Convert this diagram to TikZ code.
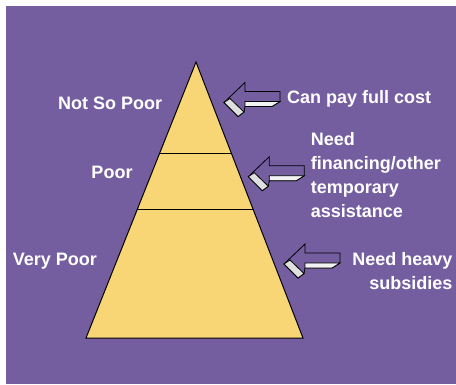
\documentclass[tikz,border=0pt]{standalone}
\usepackage{fontspec}
\setmainfont{Liberation Sans}
\usetikzlibrary{calc}

\definecolor{slidepurple}{RGB}{116,94,160}
\definecolor{tieryellow}{RGB}{248,214,118}

\tikzset{
  tierlabel/.style={text=white, font=\bfseries\fontsize{18}{24}\selectfont, inner sep=0pt},
  arrowline/.style={draw=black, line width=0.8pt},
}

% 3-D block arrow pointing left, tip at #1
\newcommand{\blockarrow}[1]{%
  \begin{scope}[shift={#1}]
    \filldraw[arrowline, fill=slidepurple] (0,0) -- (21,-20) -- (21,-11) -- (56,-11) -- (56,-1) -- (48,4) -- (21,4) -- (20,9.5) -- (14,14) -- cycle;
    \filldraw[arrowline, fill=white!90!gray] (21,-1) -- (56,-1) -- (48,4) -- (21,4) -- cycle;
    \filldraw[arrowline, fill=gray!25] (0,0) -- (6,-4) -- (20,9.5) -- (14,14) -- cycle;
  \end{scope}}

\begin{document}
\begin{tikzpicture}[x=1pt,y=-1pt]
        \useasboundingbox (0,0) rectangle (456,384);
        \fill[slidepurple] (6,6) rectangle (456,384);
        \coordinate (apex) at (196,62);
        \coordinate (baseL) at (86,338);
        \coordinate (baseR) at (303,338);
        \filldraw[fill=tieryellow, line width=1pt] (apex) -- (baseL) -- (baseR) -- cycle;
        \draw[line width=1pt] ($(apex)!0.333!(baseL)$) -- ($(apex)!0.333!(baseR)$);
        \draw[line width=1pt] ($(apex)!0.533!(baseL)$) -- ($(apex)!0.533!(baseR)$);
        \node[tierlabel, anchor=base east] (notsopoor) at (162.3,109) {Not So Poor};
        \node[tierlabel, anchor=base east] (poor) at (132.7,178) {Poor};
        \node[tierlabel, anchor=base west] (verypoor) at (12.7,265.5) {Very Poor};
        \blockarrow{(224,102.5)}
        \blockarrow{(248.3,176.7)}
        \blockarrow{(284,264)}
        \node[tierlabel, anchor=base west] (fullcost) at (287,103.6) {Can pay full cost};
        \node[tierlabel, anchor=base west, align=left] (financing) at (310.7,217.8) {Need\\financing/other\\temporary\\assistance};
        \node[tierlabel, anchor=base east, align=right] (subsidies) at (452.7,289.5) {Need heavy\\subsidies};
    \end{tikzpicture}
\end{document}
